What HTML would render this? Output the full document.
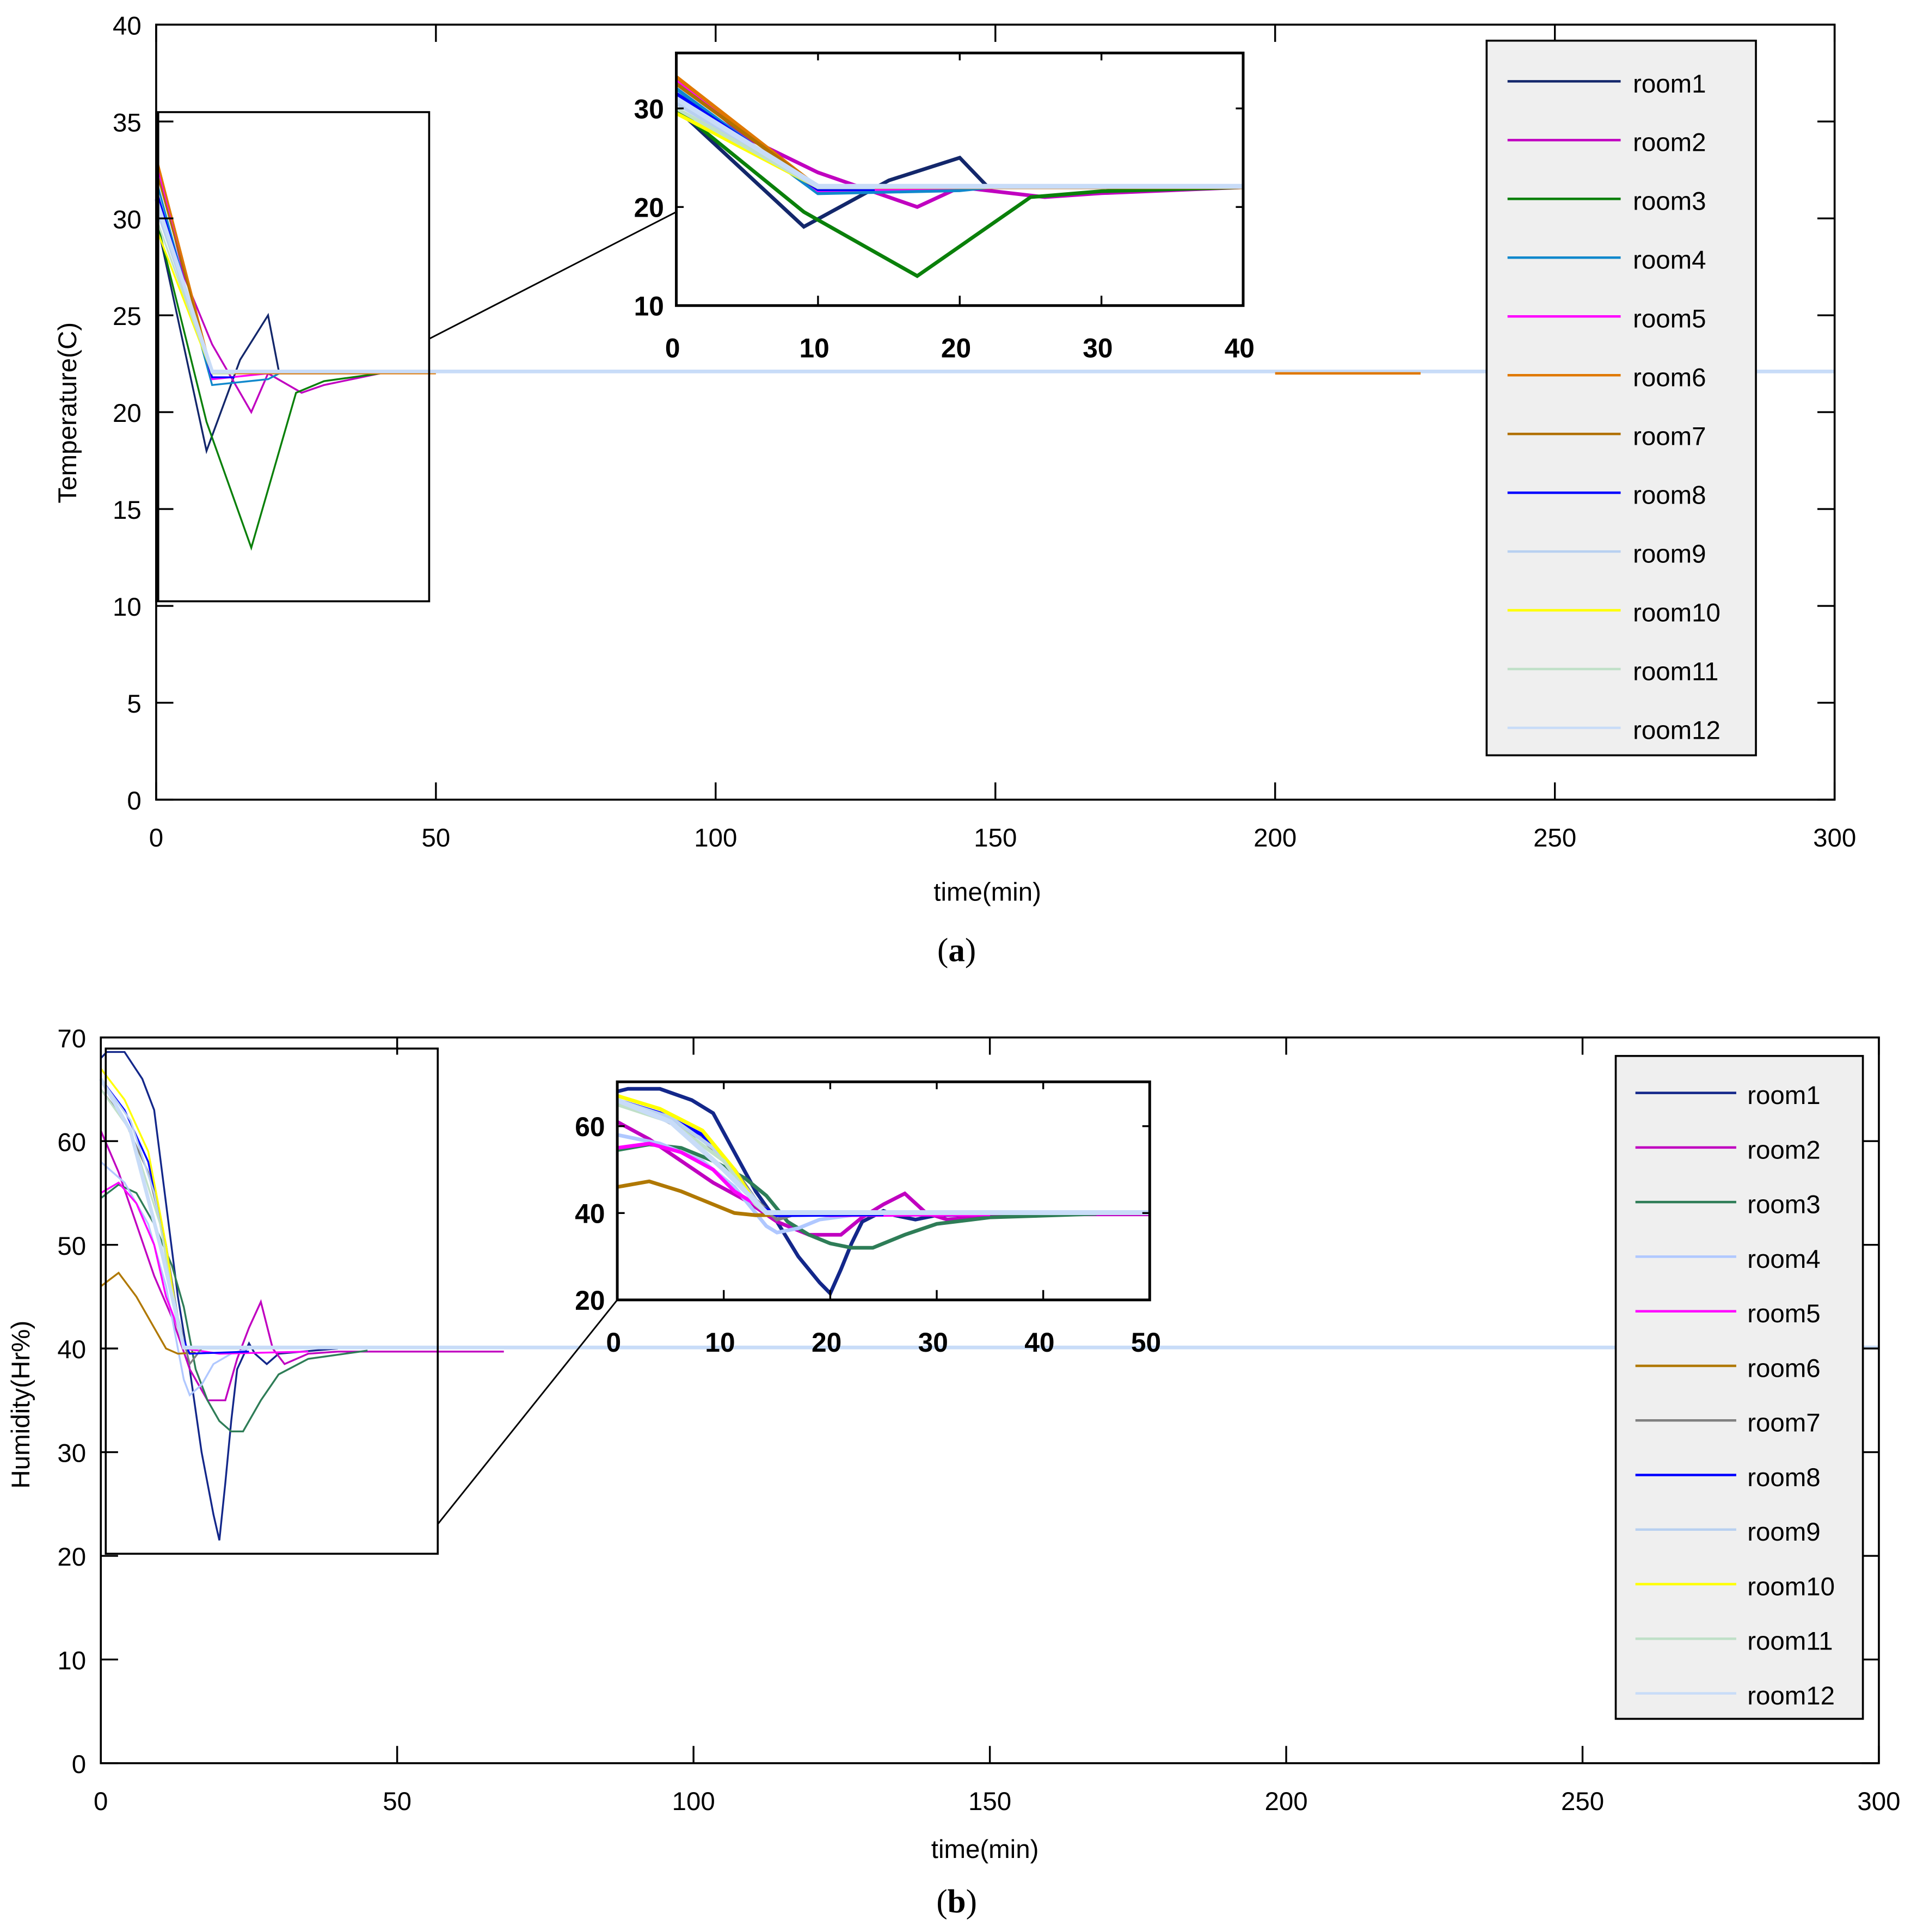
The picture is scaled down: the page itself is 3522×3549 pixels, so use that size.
<!DOCTYPE html>
<html><head><meta charset="utf-8"><style>
html,body{margin:0;padding:0;background:#fff}
svg{display:block}
text{font-family:"Liberation Sans",sans-serif}
</style></head><body>
<svg id="fig" width="3522" height="3549" viewBox="0 0 1559 1568" preserveAspectRatio="none" xmlns="http://www.w3.org/2000/svg">
<defs>
<clipPath id="clipTI"><rect x="550" y="43" width="461" height="205"/></clipPath>
<clipPath id="clipHI"><rect x="502" y="878" width="433" height="177"/></clipPath>
</defs>
<g id="root"></g>
</svg>
<script>
// ---------- data: temperature (a) ----------
const roomNames = ["room1","room2","room3","room4","room5","room6","room7","room8","room9","room10","room11","room12"];
const tempTicksX = [0,50,100,150,200,250,300];
const tempTicksY = [0,5,10,15,20,25,30,35,40];
const tempInsetTicksX = [0,10,20,30,40];
const tempInsetTicksY = [10,20,30];
const tT1 = [0,9,15,20,22,40];         const tV1 = [30,18,22.7,25,22,22];
const tT2 = [0,5,10,17,20,26,30,40];   const tV2 = [33,27,23.5,20,22,21,21.4,22];
const tT3 = [0,9,17,25,30,40];         const tV3 = [30,19.5,13,21,21.6,22];
const tT4 = [0,10,20,22];              const tV4 = [32,21.4,21.7,22];
const tT5 = [0,10,20];                 const tV5 = [33,21.7,22];
const tT6 = [0,10,50];                 const tV6 = [33.2,22,22];
const tT7 = [0,10,14];                 const tV7 = [32.5,22,22];
const tT8 = [0,10,14];                 const tV8 = [31.5,21.8,21.8];
const tT9 = [0,10,14];                 const tV9 = [30.5,22,22];
const tT10 = [0,10,14];                const tV10 = [29.5,22,22];
const tT11 = [0,10,14];                const tV11 = [30,22,22];
const tT12 = [0,10,300];               const tV12 = [31,22.1,22.1];
const tempColors = ["#13276b","#c000c0","#0a800a","#1088cc","#ff00ff","#e07800","#b07000","#0000ff","#b8d0f0","#ffff00","#c0e0c8","#c8dcf8"];
const tempExtraT = [200,226]; const tempExtraV = [22,22];

// ---------- data: humidity (b) ----------
const humTicksX = [0,50,100,150,200,250,300];
const humTicksY = [0,10,20,30,40,50,60,70];
const humInsetTicksX = [0,10,20,30,40,50];
const humInsetTicksY = [20,40,60];
const hT1 = [0,1,4,7,9,11,13,15,17,19,20,21,22,23,25,26,28,30,40];
const hV1 = [68,68.6,68.6,66,63,54,45,38,30,24,21.5,27,33,38,40.5,39.5,38.5,39.5,40];
const hT2 = [0,3,6,9,12,15,18,21,23,25,27,29,31,35,40,68];
const hV2 = [61,57,52,47,43,38,35,35,39,42,44.5,40,38.5,39.5,39.7,39.7];
const hT3 = [0,3,6,9,12,14,16,18,20,22,24,27,30,35,45];
const hV3 = [54.5,55.8,55,52,48,44,38,35,33,32,32,35,37.5,39,39.8];
const hT4 = [0,4,8,11,13,14,15,17,19,22,25];
const hV4 = [58,56,52,46,40,37,35.5,36.5,38.5,39.5,40];
const hT5 = [0,3,6,9,11,13,14,20,35];
const hV5 = [55,56,54,50,45,42,40,39.5,39.7];
const hT6 = [0,3,6,9,11,13,16];
const hV6 = [46,47.3,45,42,40,39.5,39.6];
const hT7 = [0,4,8,11,13,15,17];
const hV7 = [65,62,57,50,43,38.5,40];
const hT8 = [0,4,8,11,13,15,25];
const hV8 = [66,63,58,50,42,39.5,39.7];
const hT9 = [0,5,9,12,14,20];
const hV9 = [66,62,55,46,40,40];
const hT10 = [0,4,8,11,13,14,16];
const hV10 = [67,64,59,50,42,40,40];
const hT11 = [0,5,10,13,14,30];
const hV11 = [65,61,52,42,40,40];
const hT12 = [0,5,10,14,300];
const hV12 = [66,61,50,40.1,40.1];
const humColors = ["#13278a","#c000c0","#2e7d57","#b0c8ff","#ff00ff","#b07800","#808080","#0000ff","#b8d0f0","#ffff00","#c0e0c8","#c8dcf8"];

const tempT = [tT1,tT2,tT3,tT4,tT5,tT6,tT7,tT8,tT9,tT10,tT11,tT12];
const tempV = [tV1,tV2,tV3,tV4,tV5,tV6,tV7,tV8,tV9,tV10,tV11,tV12];
const humT = [hT1,hT2,hT3,hT4,hT5,hT6,hT7,hT8,hT9,hT10,hT11,hT12];
const humV = [hV1,hV2,hV3,hV4,hV5,hV6,hV7,hV8,hV9,hV10,hV11,hV12];

const NS = "http://www.w3.org/2000/svg";
const root = document.getElementById("root");
function mk(tag, attrs, parent){
  const e = document.createElementNS(NS, tag);
  for (const k in attrs) e.setAttribute(k, attrs[k]);
  (parent||root).appendChild(e);
  return e;
}
function scale(d0,d1,p0,p1){ return v => p0 + (v-d0)/(d1-d0)*(p1-p0); }

function drawSeries(g, Ts, Vs, colors, sx, sy, w, clip, prefix, lastW){
  for (let i=0;i<Ts.length;i++){
    const pts = Ts[i].map((t,j)=> sx(t).toFixed(2)+","+sy(Vs[i][j]).toFixed(2)).join(" ");
    const pl = mk("polyline",{points:pts,fill:"none",stroke:colors[i],"stroke-width":(i==Ts.length-1&&lastW)?lastW:w,"stroke-linejoin":"miter"},g);
    if (clip) pl.setAttribute("clip-path","url(#"+clip+")");
    
    
  }
}

function panel(cfg){
  const g = mk("g",{});
  
  
  const sx = scale(0,300,cfg.x0,cfg.x1), sy = scale(cfg.yMin,cfg.yMax,cfg.y1,cfg.y0);
  drawSeries(g, cfg.T, cfg.V, cfg.colors, sx, sy, 1.5, null, cfg.prefix+'-main', 3);
  if (cfg.extraT){
    const pts = cfg.extraT.map((t,j)=> sx(t)+","+sy(cfg.extraV[j])).join(" ");
    const pl = mk("polyline",{points:pts,fill:"none",stroke:cfg.colors[5],"stroke-width":2},g);
    
    
  }
  const fr = mk("rect",{x:cfg.x0,y:cfg.y0,width:cfg.x1-cfg.x0,height:cfg.y1-cfg.y0,fill:"none",stroke:"#000","stroke-width":1.6},g);
  
  
  cfg.ticksX.forEach(v=>{
    const x = sx(v);
    mk("line",{x1:x,y1:cfg.y1,x2:x,y2:cfg.y1-14,stroke:"#000","stroke-width":1.5},g);
    mk("line",{x1:x,y1:cfg.y0,x2:x,y2:cfg.y0+14,stroke:"#000","stroke-width":1.5},g);
    const t = mk("text",{x:x,y:cfg.y1+38,"font-size":21,"text-anchor":"middle"},g);
    t.textContent = v;
    
    
  });
  cfg.ticksY.forEach(v=>{
    const y = sy(v);
    mk("line",{x1:cfg.x0,y1:y,x2:cfg.x0+14,y2:y,stroke:"#000","stroke-width":1.5},g);
    mk("line",{x1:cfg.x1,y1:y,x2:cfg.x1-14,y2:y,stroke:"#000","stroke-width":1.5},g);
    const t = mk("text",{x:cfg.x0-12,y:y+8,"font-size":21,"text-anchor":"end"},g);
    t.textContent = v;
    
    
  });
  const zb = mk("rect",{x:cfg.box[0],y:cfg.box[1],width:cfg.box[2]-cfg.box[0],height:cfg.box[3]-cfg.box[1],fill:"none",stroke:"#000","stroke-width":1.6},g);
  
  
  if (cfg.thickLeft) mk("line",{x1:cfg.box[0]+1,y1:cfg.box[1],x2:cfg.box[0]+1,y2:cfg.box[3],stroke:"#000","stroke-width":3},g);
  const cl = mk("line",{x1:cfg.conn[0],y1:cfg.conn[1],x2:cfg.conn[2],y2:cfg.conn[3],stroke:"#000","stroke-width":1.3},g);
  
  
  const ig = mk("g",{},g);
  
  
  const I = cfg.inset;
  mk("rect",{x:I.x0,y:I.y0,width:I.x1-I.x0,height:I.y1-I.y0,fill:"#fff"},ig);
  const isx = scale(0,I.xMax,I.x0,I.x1), isy = scale(I.yRef0,I.yRef1,I.yp0,I.yp1);
  drawSeries(ig, cfg.T, cfg.V, cfg.colors, isx, isy, 3, I.clip, cfg.prefix+'-inset', 4);
  mk("rect",{x:I.x0,y:I.y0,width:I.x1-I.x0,height:I.y1-I.y0,fill:"none",stroke:"#000","stroke-width":2.2},ig);
  I.ticksX.forEach(v=>{
    const x = isx(v);
    mk("line",{x1:x,y1:I.y1,x2:x,y2:I.y1-8,stroke:"#000","stroke-width":1.5},ig);
    mk("line",{x1:x,y1:I.y0,x2:x,y2:I.y0+6,stroke:"#000","stroke-width":1.5},ig);
    const t = mk("text",{x:x-3,y:I.y1+42,"font-size":22,"font-weight":"bold","text-anchor":"middle"},ig);
    t.textContent = v;
    
    
  });
  I.ticksY.forEach(v=>{
    const y = isy(v);
    mk("line",{x1:I.x0,y1:y,x2:I.x0+6,y2:y,stroke:"#000","stroke-width":1.5},ig);
    mk("line",{x1:I.x1,y1:y,x2:I.x1-6,y2:y,stroke:"#000","stroke-width":1.5},ig);
    const t = mk("text",{x:I.x0-10,y:y+8,"font-size":22,"font-weight":"bold","text-anchor":"end"},ig);
    t.textContent = v;
    
    
  });
  const L = cfg.legend;
  const lg = mk("g",{},g);
  
  
  mk("rect",{x:L.x0,y:L.y0,width:L.x1-L.x0,height:L.y1-L.y0,fill:"#efefef",stroke:"#000","stroke-width":1.6},lg);
  roomNames.forEach((n,i)=>{
    const y = L.first + i*L.step;
    const ln = mk("line",{x1:L.lx0,y1:y,x2:L.lx1,y2:y,stroke:cfg.colors[i],"stroke-width":2},lg);
    
    
    const t = mk("text",{x:L.tx,y:y+9,"font-size":21},lg);
    t.textContent = n;
    
    
  });
  const xt = mk("text",{x:cfg.xlab[0],y:cfg.xlab[1],"font-size":21,"text-anchor":"middle"},g);
  xt.textContent = "time(min)";
  
  
  const yt = mk("text",{x:0,y:0,"font-size":21,"text-anchor":"middle",transform:"translate("+cfg.ylab[0]+","+cfg.ylab[1]+") rotate(-90)"},g);
  yt.textContent = cfg.ytitle;
  
  
  const cap = mk("text",{x:778,y:cfg.cap,"font-size":27,"text-anchor":"middle"},g);
  cap.style.fontFamily = '"Liberation Serif", serif';
  cap.innerHTML = cfg.capText;
  
  
}

panel({name:"temperature-chart",prefix:"temp",x0:127,x1:1492,y0:20,y1:649,yMin:0,yMax:40,
  T:tempT,V:tempV,colors:tempColors,ticksX:tempTicksX,ticksY:tempTicksY,extraT:tempExtraT,extraV:tempExtraV,
  box:[127,91,349,488],conn:[349,275,550,172],thickLeft:true,
  inset:{x0:550,x1:1011,y0:43,y1:248,xMax:40,yRef0:10,yRef1:30,yp0:248,yp1:88,clip:"clipTI",ticksX:tempInsetTicksX,ticksY:tempInsetTicksY},
  legend:{x0:1209,x1:1428,y0:33,y1:613,first:66,step:47.7,lx0:1226,lx1:1318,tx:1328},
  xlab:[803,731],ylab:[62,335],ytitle:"Temperature(C)",cap:780,capText:"(<tspan font-weight='bold'>a</tspan>)"});

panel({name:"humidity-chart",prefix:"hum",x0:82,x1:1528,y0:842,y1:1431,yMin:0,yMax:70,
  T:humT,V:humV,colors:humColors,ticksX:humTicksX,ticksY:humTicksY,
  box:[86,851,356,1261],conn:[356,1237,502,1055],thickLeft:false,
  inset:{x0:502,x1:935,y0:878,y1:1055,xMax:50,yRef0:20,yRef1:60,yp0:1055,yp1:914,clip:"clipHI",ticksX:humInsetTicksX,ticksY:humInsetTicksY},
  legend:{x0:1314,x1:1515,y0:857,y1:1395,first:887,step:44.3,lx0:1330,lx1:1412,tx:1421},
  xlab:[801,1508],ylab:[24,1140],ytitle:"Humidity(Hr%)",cap:1552,capText:"(<tspan font-weight='bold'>b</tspan>)"});
</script>
</body></html>
